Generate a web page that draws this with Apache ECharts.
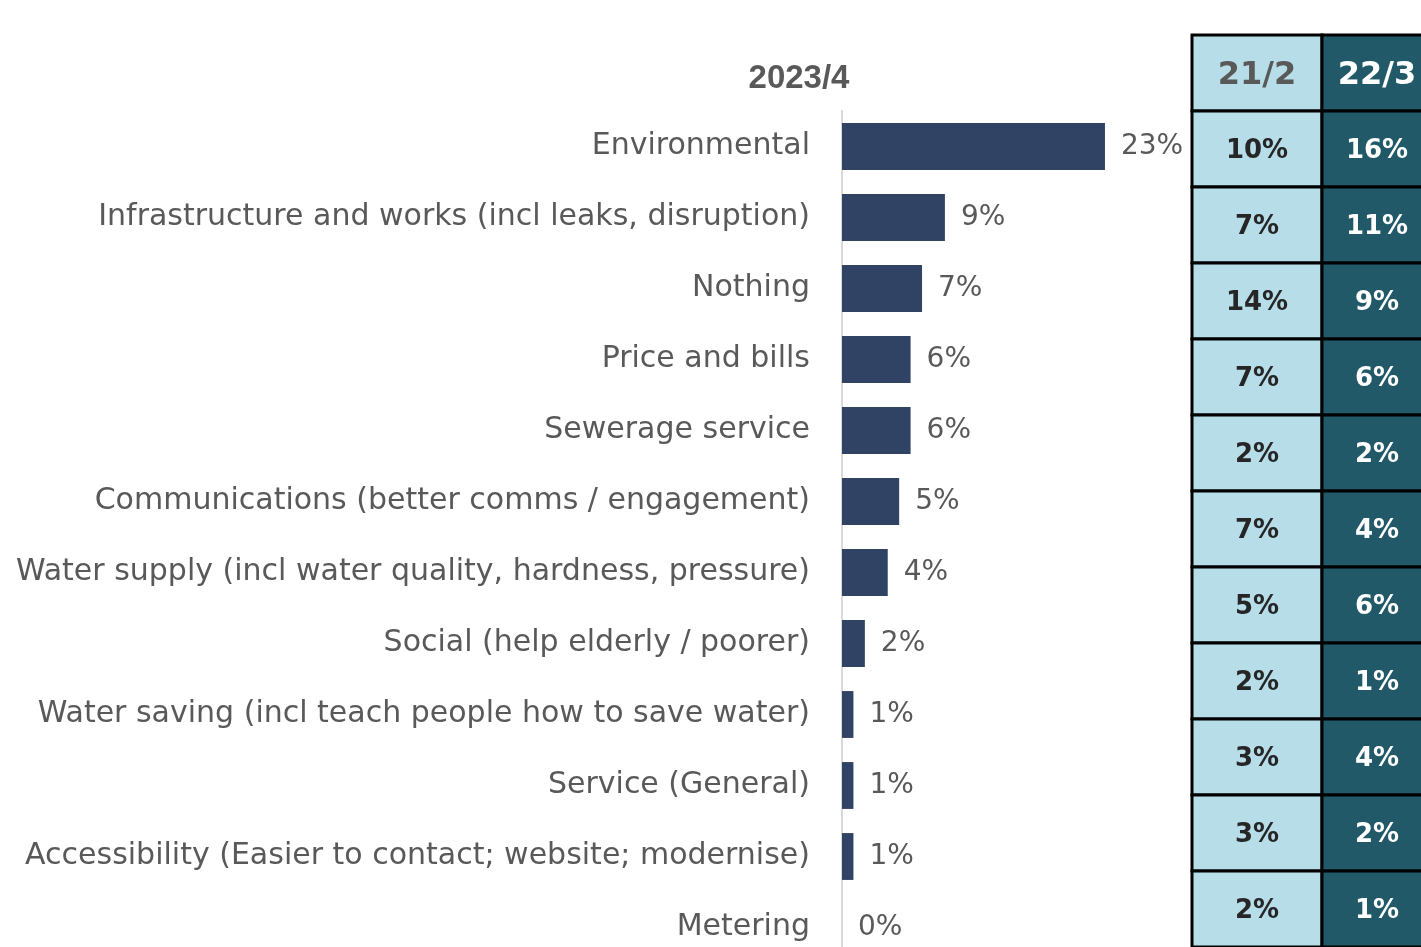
<!DOCTYPE html>
<html>
<head>
<meta charset="utf-8">
<script src="https://cdn.jsdelivr.net/npm/echarts@6/dist/echarts.min.js"></script>
<style>
  html, body { margin: 0; padding: 0; background: #fff; overflow: hidden; width: 1421px; height: 947px; }
  /* the table and the last bar row run past the bottom/right edge of the view */
  #chart { width: 1470px; height: 980px; }
</style>
</head>
<body>
<div id="chart"></div>
<script>
// Suggestions for improvement, 2023/4 wave
const categories = [
  'Environmental',
  'Infrastructure and works (incl leaks, disruption)',
  'Nothing',
  'Price and bills',
  'Sewerage service',
  'Communications (better comms / engagement)',
  'Water supply (incl water quality, hardness, pressure)',
  'Social (help elderly / poorer)',
  'Water saving (incl teach people how to save water)',
  'Service (General)',
  'Accessibility (Easier to contact; website; modernise)',
  'Metering'
];
const values2023 = [23, 9, 7, 6, 6, 5, 4, 2, 1, 1, 1, 0];

// Earlier waves shown in the side table
const tableCols = ['21/2', '22/3'];
const values2021 = [10, 7, 14, 7, 2, 7, 5, 2, 3, 3, 2];
const values2022 = [16, 11, 9, 6, 2, 4, 6, 1, 4, 2, 1];

const LABEL_FONT = 'DejaVu Sans';
const GREY = '#595959';
const LIGHT = '#b6dde8';
const DARK = '#215968';

// Table cells: row 0 is the header, then one row per earlier-wave value
const tableRows = ['header'].concat(values2021.map((_, i) => 'r' + i));
const cells = [];
tableCols.forEach((name, c) => {
  cells.push({ col: c, row: 0, text: name, header: true });
});
values2021.forEach((v, i) => {
  cells.push({ col: 0, row: i + 1, text: v + '%', header: false });
  cells.push({ col: 1, row: i + 1, text: values2022[i] + '%', header: false });
});

const chart = echarts.init(document.getElementById('chart'));
chart.setOption({
  animation: false,
  backgroundColor: '#fff',
  title: {
    text: '2023/4',
    left: 794,
    textAlign: 'center',
    top: 57,
    textStyle: { fontFamily: 'Liberation Sans', fontWeight: 'bold', fontSize: 33, color: GREY }
  },
  grid: [
    { left: 842, top: 111, width: 343, height: 852, outerBoundsMode: 'none' },
    { left: 1192, top: 35, width: 260, height: 912, outerBoundsMode: 'none' }
  ],
  xAxis: [
    { gridIndex: 0, type: 'value', min: 0, max: 30, show: false },
    { gridIndex: 1, type: 'category', data: tableCols, show: false }
  ],
  yAxis: [
    {
      gridIndex: 0,
      type: 'category',
      data: categories,
      inverse: true,
      axisLine: { show: true, lineStyle: { color: '#d9d9d9', width: 2 } },
      axisTick: { show: false },
      axisLabel: {
        margin: 32,
        fontFamily: LABEL_FONT,
        fontSize: 30,
        color: GREY
      }
    },
    { gridIndex: 1, type: 'category', data: tableRows, inverse: true, show: false }
  ],
  series: [
    {
      type: 'bar',
      xAxisIndex: 0,
      yAxisIndex: 0,
      data: values2023,
      barCategoryGap: '34%',
      itemStyle: { color: '#304364' },
      label: {
        show: true,
        position: 'right',
        distance: 16,
        formatter: '{c}%',
        fontFamily: LABEL_FONT,
        fontSize: 28,
        color: GREY
      }
    },
    {
      type: 'custom',
      xAxisIndex: 1,
      yAxisIndex: 1,
      data: cells.map(d => [d.col, d.row]),
      renderItem: function (params, api) {
        const cell = cells[params.dataIndex];
        const center = api.coord([api.value(0), api.value(1)]);
        const size = api.size([1, 1]);
        const dark = cell.col === 1;
        let textColor = dark ? '#ffffff' : '#262626';
        if (cell.header && !dark) textColor = GREY;
        return {
          type: 'group',
          children: [
            {
              type: 'rect',
              shape: { x: center[0] - size[0] / 2, y: center[1] - size[1] / 2, width: size[0], height: size[1] },
              style: { fill: dark ? DARK : LIGHT, stroke: '#000', lineWidth: 3 }
            },
            {
              type: 'text',
              // the dark column is clipped at the right edge; keep its text inside the shown part
              x: center[0] - (dark ? 10 : 0),
              y: center[1] + (cell.header ? 3 : 2),
              style: {
                text: cell.text,
                align: 'center',
                verticalAlign: 'middle',
                fill: textColor,
                fontFamily: LABEL_FONT,
                fontWeight: 'bold',
                fontSize: cell.header ? 32 : 26
              }
            }
          ]
        };
      }
    }
  ]
});
</script>
</body>
</html>
